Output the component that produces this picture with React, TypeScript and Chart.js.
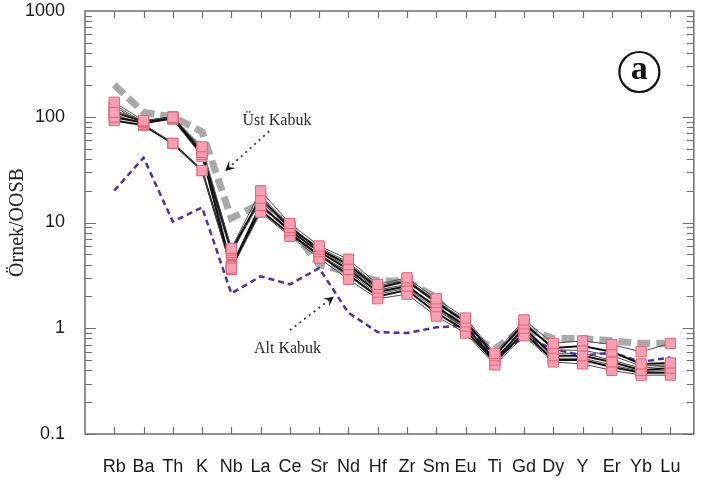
import { useEffect, useRef } from 'react';
import { Chart, registerables } from 'chart.js';

Chart.register(...registerables);

// Trace elements, ordered by incompatibility
const elements = ['Rb', 'Ba', 'Th', 'K', 'Nb', 'La', 'Ce', 'Sr', 'Nd', 'Hf', 'Zr', 'Sm', 'Eu', 'Ti', 'Gd', 'Dy', 'Y', 'Er', 'Yb', 'Lu'];

// Reference crusts (normalised)
const upperCrust = [200, 110, 100, 72, 11, 15, 9, 4.0, 3.4, 2.8, 2.8, 1.95, 0.9, 0.64, 1.0, 0.8, 0.8, 0.76, 0.72, 0.72];
const lowerCrust = [20, 41, 10.2, 13.9, 2.13, 3.1, 2.6, 3.7, 1.4, 0.92, 0.9, 1.02, 1.06, 0.53, 0.82, 0.64, 0.55, 0.59, 0.48, 0.53];

// Samples
const sample1 = [137, 92, 99, 52, 5.7, 20, 9.8, 6.0, 4.5, 2.6, 3.0, 1.9, 1.25, 0.58, 1.2, 0.72, 0.76, 0.7, 0.6, 0.72];
const sample2 = [110, 90, 99, 46, 5.5, 17, 9.0, 5.6, 4.0, 2.4, 2.8, 1.75, 1.15, 0.55, 1.1, 0.65, 0.68, 0.6, 0.46, 0.47];
const sample3 = [99, 88, 97, 44, 3.7, 14.5, 8.4, 5.3, 3.6, 2.2, 2.5, 1.6, 1.05, 0.5, 1.0, 0.55, 0.55, 0.48, 0.4, 0.42];
const sample4 = [125, 85, 56, 31, 3.6, 12.5, 7.4, 4.6, 2.9, 1.9, 2.1, 1.3, 0.9, 0.45, 0.85, 0.48, 0.46, 0.4, 0.36, 0.36];
const sample5 = [92, 83, 56, 31, 3.8, 13, 7.8, 4.9, 3.2, 2.0, 2.3, 1.4, 0.95, 0.48, 0.9, 0.5, 0.5, 0.43, 0.38, 0.38];
const sample6 = [115, 92, 100, 48, 5.2, 16, 8.8, 5.8, 4.2, 2.5, 2.9, 1.8, 1.2, 0.56, 1.15, 0.62, 0.62, 0.55, 0.44, 0.45];
const sample7 = [105, 86, 95, 42, 5.0, 18, 9.3, 5.5, 3.8, 2.3, 2.6, 1.55, 1.0, 0.52, 0.95, 0.52, 0.52, 0.45, 0.39, 0.4];
const sample8 = [130, 88, 98, 50, 3.9, 15, 8.0, 5.0, 3.4, 2.1, 2.4, 1.5, 1.0, 0.5, 0.92, 0.58, 0.58, 0.5, 0.42, 0.44];

const samples = [sample1, sample2, sample3, sample4, sample5, sample6, sample7, sample8];
const heavySamples = [false, true, true, false, true, false, false, false];

// Power-of-ten tick labels on the y axis
const yTickLabels = [0.1, 1, 10, 100, 1000];

// Callout labels and arrows (element index, normalised value)
const callouts = [
  { text: 'Üst Kabuk', x: 5.56, y: 92, fromX: 5.29, fromY: 73, toX: 3.79, toY: 30.7 },
  { text: 'Alt Kabuk', x: 5.92, y: 0.64, fromX: 6.0, fromY: 0.96, toX: 7.5, toY: 1.99 },
];
const panelBadge = { text: 'a', x: 17.94, y: 265 };

const toPoints = (vals: number[]) => vals.map((v, i) => ({ x: i, y: v }));

const decorPlugin = {
  id: 'decor',
  afterDatasetsDraw(chart: any) {
    const { ctx, chartArea, scales } = chart;
    const { left, right, top, bottom } = chartArea;
    const xs = scales.x;
    const ys = scales.y;
    ctx.save();

    // frame
    ctx.strokeStyle = '#6e6e6e';
    ctx.lineWidth = 1.5;
    ctx.strokeRect(left, top, right - left, bottom - top);

    // inward ticks
    ctx.lineWidth = 1.2;
    ctx.beginPath();
    for (let e = -1; e < 3; e++) {
      for (let m = 1; m < 10; m++) {
        const py = Math.round(ys.getPixelForValue(m * Math.pow(10, e))) + 0.5;
        const len = m === 1 ? 11 : 7;
        ctx.moveTo(left, py);
        ctx.lineTo(left + len, py);
        ctx.moveTo(right, py);
        ctx.lineTo(right - len, py);
      }
    }
    elements.forEach((_, i) => {
      const px = Math.round(xs.getPixelForValue(i)) + 0.5;
      ctx.moveTo(px, bottom);
      ctx.lineTo(px, bottom - 7);
      ctx.moveTo(px, top);
      ctx.lineTo(px, top + 7);
    });
    ctx.stroke();

    // callouts
    callouts.forEach((c) => {
      const tx = xs.getPixelForValue(c.x);
      const ty = ys.getPixelForValue(c.y);
      ctx.fillStyle = '#2b2b2b';
      ctx.font = '16px "Liberation Serif", serif';
      ctx.textAlign = 'center';
      ctx.textBaseline = 'middle';
      ctx.fillText(c.text, tx, ty);

      const x0 = xs.getPixelForValue(c.fromX);
      const y0 = ys.getPixelForValue(c.fromY);
      const x1 = xs.getPixelForValue(c.toX);
      const y1 = ys.getPixelForValue(c.toY);
      const ang = Math.atan2(y1 - y0, x1 - x0);
      const headLen = 10;
      ctx.strokeStyle = '#333';
      ctx.lineWidth = 1.8;
      ctx.setLineDash([2, 4]);
      ctx.beginPath();
      ctx.moveTo(x0, y0);
      ctx.lineTo(x1 - Math.cos(ang) * headLen * 0.6, y1 - Math.sin(ang) * headLen * 0.6);
      ctx.stroke();
      ctx.setLineDash([]);
      // barbed arrow head
      const bx = x1 - Math.cos(ang) * headLen;
      const by = y1 - Math.sin(ang) * headLen;
      const nx = x1 - Math.cos(ang) * headLen * 0.55;
      const ny = y1 - Math.sin(ang) * headLen * 0.55;
      const w = 5;
      ctx.fillStyle = '#111';
      ctx.beginPath();
      ctx.moveTo(x1, y1);
      ctx.lineTo(bx + Math.cos(ang + Math.PI / 2) * w, by + Math.sin(ang + Math.PI / 2) * w);
      ctx.lineTo(nx, ny);
      ctx.lineTo(bx - Math.cos(ang + Math.PI / 2) * w, by - Math.sin(ang + Math.PI / 2) * w);
      ctx.closePath();
      ctx.fill();
    });

    // panel badge
    const cx = xs.getPixelForValue(panelBadge.x);
    const cy = ys.getPixelForValue(panelBadge.y);
    ctx.strokeStyle = '#111';
    ctx.lineWidth = 2.2;
    ctx.beginPath();
    ctx.arc(cx, cy, 20, 0, Math.PI * 2);
    ctx.stroke();
    ctx.fillStyle = '#111';
    ctx.font = 'bold 34px "Liberation Serif", serif';
    ctx.textAlign = 'center';
    ctx.textBaseline = 'middle';
    ctx.fillText(panelBadge.text, cx, cy - 2);

    ctx.restore();
  },
};

export default function App() {
  const canvasRef = useRef<HTMLCanvasElement | null>(null);

  useEffect(() => {
    if (!canvasRef.current) return;

    const sampleLines = samples.map((vals, k) => ({
      label: `sample-${k + 1}`,
      data: toPoints(vals),
      borderColor: heavySamples[k] ? '#111111' : '#4a4a4a',
      borderWidth: heavySamples[k] ? 2 : 1,
      pointRadius: 0,
      fill: false,
      tension: 0,
      order: 2,
    }));
    const sampleMarkers = samples.map((vals, k) => ({
      label: `sample-${k + 1}-markers`,
      data: toPoints(vals),
      showLine: false,
      pointStyle: 'rect',
      pointRadius: 7.2,
      pointBackgroundColor: '#f5a0b4',
      pointBorderColor: '#e8636f',
      pointBorderWidth: 1,
      order: 0,
    }));

    const chart = new Chart(canvasRef.current, {
      type: 'line',
      data: {
        datasets: [
          {
            label: 'Üst Kabuk',
            data: toPoints(upperCrust),
            borderColor: '#a9a9a9',
            borderWidth: 7,
            borderDash: [13, 6],
            pointRadius: 0,
            fill: false,
            order: 4,
          },
          {
            label: 'Alt Kabuk',
            data: toPoints(lowerCrust),
            borderColor: '#4631b3',
            borderWidth: 2.5,
            borderDash: [6, 4],
            pointRadius: 0,
            fill: false,
            order: 3,
          },
          ...sampleLines,
          ...sampleMarkers,
        ] as any,
      },
      options: {
        responsive: false,
        animation: false,
        devicePixelRatio: 1,
        layout: { padding: { top: 11, right: 5, left: 0, bottom: 0 } },
        plugins: {
          legend: { display: false },
          tooltip: { enabled: false },
        },
        scales: {
          x: {
            type: 'linear',
            min: -1,
            max: 19.8,
            grid: { display: false, drawTicks: false },
            border: { display: false },
            afterBuildTicks: (scale: any) => {
              scale.ticks = elements.map((_, i) => ({ value: i }));
            },
            afterFit: (scale: any) => {
              scale.height = 51;
              scale.paddingLeft = 0;
              scale.paddingRight = 0;
            },
            ticks: {
              autoSkip: false,
              maxRotation: 0,
              padding: 22,
              color: '#1a1a1a',
              font: { family: '"Liberation Sans", Arial, sans-serif', size: 18 },
              callback: (v: any) => elements[Number(v)] ?? '',
            },
          },
          y: {
            type: 'logarithmic',
            min: 0.1,
            max: 1000,
            grid: { display: false, drawTicks: false },
            border: { display: false },
            afterBuildTicks: (scale: any) => {
              scale.ticks = yTickLabels.map((v) => ({ value: v }));
            },
            afterFit: (scale: any) => {
              scale.width = 85;
              scale.paddingTop = 0;
              scale.paddingBottom = 0;
            },
            ticks: {
              autoSkip: false,
              padding: 20,
              color: '#1a1a1a',
              font: { family: '"Liberation Sans", Arial, sans-serif', size: 18 },
              callback: (v: any) => String(Number(v)),
            },
            title: {
              display: true,
              text: 'Örnek/OOSB',
              color: '#222',
              font: { family: '"Liberation Serif", "Times New Roman", serif', size: 20 },
              padding: { top: 6, bottom: 4 },
            },
          },
        },
      },
      plugins: [decorPlugin],
    });

    return () => chart.destroy();
  }, []);

  return (
    <div style={{ position: 'fixed', left: 0, top: 0, width: 702, height: 485, background: '#fff' }}>
      <canvas ref={canvasRef} width={702} height={485} />
    </div>
  );
}
